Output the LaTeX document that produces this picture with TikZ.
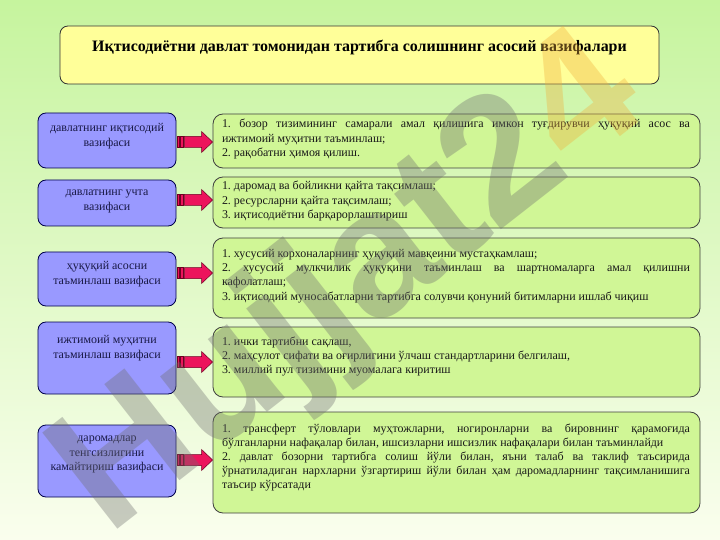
\documentclass[tikz,border=0pt]{standalone}
\usepackage{fontspec}
\setmainfont{Liberation Serif}
\newfontfamily\wmfont{Liberation Sans}
\usetikzlibrary{calc}
\definecolor{bgtop}{RGB}{198,244,158}
\definecolor{bgbot}{RGB}{250,254,238}
\definecolor{titlefill}{RGB}{255,255,153}
\definecolor{leftfill}{RGB}{153,153,255}
\definecolor{rightfill}{RGB}{208,246,150}
\definecolor{arrowred}{RGB}{236,20,92}
\definecolor{arrowdark}{RGB}{110,0,35}
\definecolor{lefttext}{RGB}{25,25,70}
\definecolor{wmgray}{RGB}{110,110,110}
\definecolor{wmorange}{RGB}{240,175,60}
\tikzset{
 titlebox/.style={draw=black!80, line width=0.8bp, fill=titlefill, rounded corners=8bp, minimum width=599bp, minimum height=58bp, inner sep=0pt},
 leftbox/.style={draw=black!70!blue, line width=0.8bp, fill=leftfill, rounded corners=8bp, minimum width=138bp, inner sep=0pt},
 rightbox/.style={draw=black!75, line width=0.8bp, fill=rightfill, rounded corners=10bp, minimum width=487bp, inner sep=0pt},
 lefttxt/.style={text=lefttext, align=center, font=\fontsize{12}{15}\selectfont, inner sep=0pt},
 righttxt/.style={text=black!90, text width=468bp, align=justify, font=\fontsize{12}{14.2}\selectfont, inner sep=0pt,
   execute at begin node={\frenchspacing\sloppy\hyphenpenalty=10000\parindent=0pt\relax}},
 arrowpart/.style={fill=arrowred, draw=arrowdark, line width=0.5bp},
}
\newcommand\stripedarrow[2]{%
  \filldraw[arrowpart] ($(#1)+(1,-5.5)$) rectangle ($(#1)+(2.6,5.5)$);
  \filldraw[arrowpart] ($(#1)+(4,-5.5)$) rectangle ($(#1)+(6.4,5.5)$);
  \filldraw[arrowpart] ($(#1)+(8,-5.5)$) -- ($(#2)+(-11,-5.5)$) -- ($(#2)+(-11,-10.5)$) -- (#2)
     -- ($(#2)+(-11,10.5)$) -- ($(#2)+(-11,5.5)$) -- ($(#1)+(8,5.5)$) -- cycle;
}
\begin{document}
\begin{tikzpicture}[x=1bp,y=-1bp]
\useasboundingbox (0,0) rectangle (720,540);
\shade[top color=bgtop, bottom color=bgbot] (0,0) rectangle (720,540);

% title
\node[titlebox] (title) at (359.5,55) {};
\node[inner sep=0pt, font=\fontsize{16}{19}\selectfont\bfseries] (ttext) at (359.5,47)
  {Иқтисодиётни давлат томонидан тартибга солишнинг асосий вазифалари};

% left boxes
\node[leftbox, minimum height=55bp] (lb1) at (107,140.5) {};
\node[leftbox, minimum height=46bp] (lb2) at (107,203) {};
\node[leftbox, minimum height=54bp] (lb3) at (107,279) {};
\node[leftbox, minimum height=72bp] (lb4) at (107,358) {};
\node[leftbox, minimum height=72bp] (lb5) at (107,461) {};
\node[lefttxt] (lt1) at (107,136.5) {давлатнинг иқтисодий\\вазифаси};
\node[lefttxt] (lt2) at (107,201) {давлатнинг учта\\вазифаси};
\node[lefttxt] (lt3) at (107,274.5) {ҳуқуқий асосни\\таъминлаш вазифаси};
\node[lefttxt] (lt4) at (107,348) {ижтимоий муҳитни\\таъминлаш вазифаси};
\node[lefttxt] (lt5) at (107,454.5) {даромадлар\\тенгсизлигини\\камайтириш вазифаси};

% right boxes
\node[rightbox, minimum height=54bp] (rb1) at (456.5,141) {};
\node[rightbox, minimum height=51bp] (rb2) at (456.5,202.5) {};
\node[rightbox, minimum height=80bp] (rb3) at (456.5,278) {};
\node[rightbox, minimum height=70bp] (rb4) at (456.5,362) {};
\node[rightbox, minimum height=101bp] (rb5) at (456.5,462.5) {};

\node[righttxt] (rt1) at (456,139) {1. бозор тизимининг самарали амал қилишига имкон туғдирувчи ҳуқуқий асос ва\linebreak ижтимоий муҳитни таъминлаш;\par 2. рақобатни ҳимоя қилиш.};
\node[righttxt] (rt2) at (456,201) {1. даромад ва бойликни қайта тақсимлаш;\par 2. ресурсларни қайта тақсимлаш;\par 3. иқтисодиётни барқарорлаштириш};
\node[righttxt] (rt3) at (456,276) {1. хусусий корхоналарнинг ҳуқуқий мавқеини мустаҳкамлаш;\par 2. хусусий мулкчилик ҳуқуқини таъминлаш ва шартномаларга амал қилишни\linebreak кафолатлаш;\par 3. иқтисодий муносабатларни тартибга солувчи қонуний битимларни ишлаб чиқиш};
\node[righttxt] (rt4) at (456,356.5) {1. ички тартибни сақлаш,\par 2. маҳсулот сифати ва оғирлигини ўлчаш стандартларини белгилаш,\par 3. миллий пул тизимини муомалага киритиш};
\node[righttxt] (rt5) at (456,457.5) {1. трансферт тўловлари муҳтожларни, ногиронларни ва бировнинг қарамоғида\linebreak бўлганларни нафақалар билан, ишсизларни ишсизлик нафақалари билан таъминлайди\par 2. давлат бозорни тартибга солиш йўли билан, яъни талаб ва таклиф таъсирида\linebreak ўрнатиладиган нархларни ўзгартириш йўли билан ҳам даромадларнинг тақсимланишига\linebreak таъсир кўрсатади};

% arrows
\coordinate (a1s) at (lb1.east |- 0,142); \coordinate (a1e) at (rb1.west |- 0,142);
\coordinate (a2s) at (lb2.east |- 0,200); \coordinate (a2e) at (rb2.west |- 0,200);
\coordinate (a3s) at (lb3.east |- 0,273); \coordinate (a3e) at (rb3.west |- 0,273);
\coordinate (a4s) at (lb4.east |- 0,362); \coordinate (a4e) at (rb4.west |- 0,362);
\coordinate (a5s) at (lb5.east |- 0,460); \coordinate (a5e) at (rb5.west |- 0,460);
\stripedarrow{a1s}{a1e}
\stripedarrow{a2s}{a2e}
\stripedarrow{a3s}{a3e}
\stripedarrow{a4s}{a4e}
\stripedarrow{a5s}{a5e}

% watermark
\node[rotate=38, inner sep=0pt, text opacity=0.36, font=\wmfont\bfseries\fontsize{178}{178}\selectfont] (wm) at (352,288)
  {\textcolor{wmgray}{Hujjat2}\textcolor{wmorange}{4}};
\end{tikzpicture}
\end{document}
